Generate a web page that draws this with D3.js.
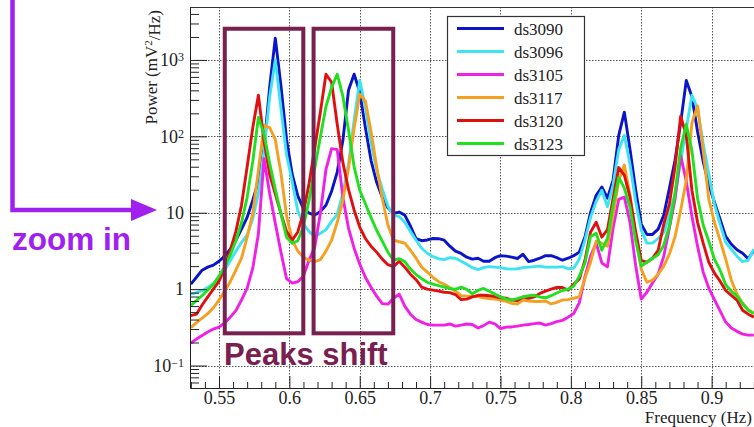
<!DOCTYPE html>
<html><head><meta charset="utf-8">
<script src="https://cdn.jsdelivr.net/npm/d3@7"></script>
<style>body{margin:0;background:#fff;} svg{display:block;}</style>
</head><body>
<svg id="c" width="754" height="427"></svg>
<script>
// ---------- DATA ----------
const freqs = [0.530,0.534,0.538,0.542,0.546,0.550,0.554,0.558,0.562,0.566,
0.570,0.574,0.578,0.582,0.586,0.590,0.594,0.598,0.602,0.606,
0.610,0.614,0.618,0.622,0.626,0.630,0.634,0.638,0.642,0.646,
0.650,0.654,0.658,0.662,0.666,0.670,0.674,0.678,0.682,0.686,
0.690,0.694,0.698,0.702,0.706,0.710,0.714,0.718,0.722,0.726,
0.730,0.734,0.738,0.742,0.746,0.750,0.754,0.758,0.762,0.766,
0.770,0.774,0.778,0.782,0.786,0.790,0.794,0.798,0.802,0.806,
0.810,0.814,0.818,0.822,0.826,0.830,0.834,0.838,0.842,0.846,
0.850,0.854,0.858,0.862,0.866,0.870,0.874,0.878,0.882,0.886,
0.890,0.894,0.898,0.902,0.906,0.910,0.914,0.918,0.922,0.926,0.930];

const seriesNames = ["ds3090","ds3096","ds3105","ds3117","ds3120","ds3123"];
const seriesColors = ["#0a14c8","#3ee4f0","#f020e6","#f5a020","#e01010","#20e020"];

const ds3090 = [1.16,1.43,1.77,1.94,2.06,2.32,2.70,3.33,4.37,6.1,
8.7,14.6,26,70,440,1930,460,91,32,16.6,
11.3,9.9,9.3,10.4,12.5,19.1,34,88,400,650,
380,130,48.6,25,16,11.6,9.8,10.2,9.3,6.7,
4.57,4.3,4.4,4.6,4.57,4.37,3.65,3.14,2.93,2.62,
2.47,2.54,2.32,2.32,2.58,2.74,2.70,2.62,2.52,2.86,
2.29,2.39,2.54,2.74,2.74,2.58,2.39,2.54,2.74,3.05,
4.8,10.1,16.9,21.7,15.5,26.6,103,207,68,20.2,
7.1,5.2,5.2,6.1,9.3,20.9,48.6,150,540,330,
116,47,23,13.7,8.2,4.9,3.87,3.28,2.95,2.5,3.2];

const ds3096 = [0.86,0.90,0.955,1.05,1.18,1.41,1.77,2.36,3.14,4.1,
5.07,8.4,17.9,65,326,1000,235,57,25.5,10.5,
7.1,5.7,4.85,5.4,6.0,7.7,9.5,17.9,43,162,
540,240,84,36,20.5,12.2,9.3,8.9,7.5,5.7,
4.37,3.43,2.95,2.66,2.5,2.43,2.58,2.54,2.32,2.12,
1.91,1.80,1.91,1.97,1.94,1.91,1.85,1.83,1.85,1.91,
1.94,1.97,2.0,1.94,1.94,1.94,1.97,1.85,1.88,2.47,
4.37,8.7,14.1,19.7,12,23,67,103,43,14.1,
5.9,4.0,4.0,4.6,5.5,9.3,17.9,47,127,345,
232,80,32,12.9,7.1,4.1,3.33,2.7,2.29,2.39,3.33];

const ds3105 = [0.197,0.222,0.247,0.274,0.30,0.318,0.36,0.43,0.524,0.72,
1.03,1.88,5.3,51,17.9,7.3,3.05,1.37,1.2,1.25,
1.48,2.4,3.54,9.8,37,69,67,16,6.3,3.43,
2.12,1.43,1.06,0.81,0.647,0.636,0.76,0.86,0.60,0.47,
0.40,0.37,0.344,0.338,0.338,0.338,0.35,0.328,0.338,0.35,
0.344,0.31,0.333,0.37,0.35,0.305,0.318,0.32,0.328,0.338,
0.344,0.354,0.36,0.338,0.354,0.376,0.39,0.43,0.48,0.66,
1.45,2.7,4.0,2.2,1.96,6.3,15,16,7.5,2.06,
0.74,0.91,1.2,1.57,2.7,6.3,15,56,25.8,9,
3.65,1.67,1.03,0.73,0.52,0.37,0.31,0.28,0.258,0.25,0.25];

const ds3117 = [0.314,0.365,0.417,0.478,0.57,0.72,0.94,1.25,1.77,2.54,
4.78,9.8,36,139,130,91,33,9.1,4.37,3.14,
2.62,2.39,2.29,2.43,3.14,4.37,7.5,14.6,38,127,
355,290,116,40,15.5,6.9,4.37,4.17,3.99,3.23,
2.54,1.94,1.67,1.43,1.25,1.16,1.05,0.94,0.82,0.81,
0.80,0.80,0.77,0.75,0.74,0.72,0.69,0.65,0.64,0.72,
0.70,0.69,0.69,0.70,0.64,0.67,0.72,0.73,0.76,0.79,
1.39,2.25,4.24,3.99,3.65,9.3,26.6,42,17,4.9,
1.83,1.23,1.31,1.57,2.0,2.87,4.85,10.8,26.6,150,
250,65,15,7.5,4.37,2.47,1.31,0.86,0.66,0.54,0.48];

const ds3120 = [0.45,0.47,0.62,0.79,1.0,1.27,1.88,3.23,5.7,12.5,
40,130,345,87,31.8,17.5,9.8,5.7,4.37,5.6,
10.1,24.2,70,207,650,510,144,45.6,20.2,10.8,
6.5,4.6,3.65,3.05,2.47,2.09,1.97,2.32,1.94,1.57,
1.33,1.06,1.0,0.97,0.94,0.91,0.9,0.85,0.73,0.74,
0.79,0.83,0.83,0.82,0.80,0.77,0.76,0.72,0.71,0.79,
0.76,0.79,0.88,0.94,1.0,1.05,1.05,0.97,1.16,1.35,
2.39,5.6,7.5,4.78,6.0,15.5,39,31,16,5.7,
2.36,2.25,2.54,3.23,7.1,13,40,183,103,19.7,
7.5,4.0,2.25,1.62,1.27,0.96,0.83,0.72,0.53,0.47,0.43];

const ds3123 = [0.61,0.71,0.82,0.97,1.16,1.48,1.97,2.78,4.3,7.4,
15.9,47,177,106,44.5,20.2,9.7,4.78,3.99,4.3,
6.6,14.6,38,98,246,437,650,335,121,40,
19.7,13.1,8.7,5.9,4.24,3.05,2.39,2.5,2.29,1.83,
1.55,1.37,1.23,1.16,1.11,1.06,1.02,0.99,1.06,0.99,
0.87,0.96,1.02,0.94,0.86,0.79,0.74,0.72,0.75,0.79,
0.82,0.83,0.79,0.77,0.82,0.89,0.96,1.0,1.09,1.48,
2.19,4.9,5.4,3.23,4.6,12.5,29,21,11.8,4.37,
2.0,2.25,2.54,2.82,3.76,6.7,17.9,70,144,65,
15.5,6.9,4.24,2.47,1.77,1.14,0.94,0.81,0.64,0.53,0.48];

const seriesValues = [ds3090, ds3096, ds3105, ds3117, ds3120, ds3123];

const xTickValues = [0.55,0.60,0.65,0.70,0.75,0.80,0.85,0.90];
const xTickLabels = ["0.55","0.6","0.65","0.7","0.75","0.8","0.85","0.9"];
const xMinorTicks = [0.53,0.54,0.56,0.57,0.58,0.59,0.61,0.62,0.63,0.64,0.66,0.67,0.68,0.69,
  0.71,0.72,0.73,0.74,0.76,0.77,0.78,0.79,0.81,0.82,0.83,0.84,0.86,0.87,0.88,0.89,0.91,0.92,0.93,0.94];
const yTickValues = [0.1,1,10,100,1000];
const yTickLabels = [["10","\u22121"],["1",""],["10",""],["10","2"],["10","3"]];
const yMinorTicks = [0.06,0.07,0.08,0.09,0.2,0.3,0.4,0.5,0.6,0.7,0.8,0.9,
  2,3,4,5,6,7,8,9,20,30,40,50,60,70,80,90,200,300,400,500,600,700,800,900,2000,3000,4000];

// annotation boxes in data units [f0, f1, vTop, vBottom]
const shiftBoxes = [[0.5541,0.6099,2560,0.264],[0.6172,0.6738,2560,0.264]];

// ---------- LAYOUT ----------
const svg = d3.select("#c");
const L = 190, T = 7, B = 388, R = 782;
const x = d3.scaleLinear().domain([0.5294, 0.95]).range([L, R]);
const y = d3.scaleLog().domain([0.0508, 4930]).range([B, T]);
const serif = "Liberation Serif, Times New Roman, serif";
const sans = "Liberation Sans, Arial, sans-serif";

// grid
const grid = svg.append("g").attr("stroke","#555").attr("stroke-width",1).attr("stroke-dasharray","1.5,1.5");
grid.selectAll("line.gx").data(xTickValues).join("line")
  .attr("x1",d=>Math.round(x(d))+0.5).attr("x2",d=>Math.round(x(d))+0.5).attr("y1",T).attr("y2",B);
grid.selectAll("line.gy").data(yTickValues).join("line")
  .attr("y1",d=>Math.round(y(d))+0.5).attr("y2",d=>Math.round(y(d))+0.5).attr("x1",L).attr("x2",R);

// frame top
svg.append("line").attr("x1",L).attr("x2",R).attr("y1",T+0.5).attr("y2",T+0.5).attr("stroke","#333").attr("stroke-width",1);

// data lines
svg.append("clipPath").attr("id","clip").append("rect").attr("x",L).attr("y",T).attr("width",R-L).attr("height",B-T);
const line = d3.line().x((d,i)=>x(freqs[i])).y(d=>y(d));
svg.append("g").attr("clip-path","url(#clip)")
  .selectAll("path").data(seriesValues).join("path")
  .attr("d",line).attr("fill","none")
  .attr("stroke",(d,i)=>seriesColors[i]).attr("stroke-width",2.9).attr("stroke-linejoin","round");

// x axis
const xg = svg.append("g").attr("transform",`translate(0,${B})`)
  .call(d3.axisBottom(x).tickValues(xTickValues).tickFormat((d,i)=>xTickLabels[i])
    .tickSizeInner(-12).tickSizeOuter(0).tickPadding(3));
xg.attr("font-family",serif).attr("font-size",18).attr("color","#222");
svg.append("g").attr("transform",`translate(0,${B})`)
  .call(d3.axisBottom(x).tickValues(xMinorTicks).tickFormat("").tickSizeInner(-6).tickSizeOuter(0))
  .attr("color","#222").select(".domain").remove();

// y axis
const yg = svg.append("g").attr("transform",`translate(${L},0)`)
  .call(d3.axisLeft(y).tickValues(yTickValues).tickFormat(()=>"")
    .tickSizeInner(-17).tickSizeOuter(0).tickPadding(6));
yg.attr("font-family",serif).attr("font-size",18).attr("color","#222");
yg.selectAll(".tick text").each(function(d,i){
  const t = d3.select(this);
  t.append("tspan").text(yTickLabels[i][0]);
  if (yTickLabels[i][1]) t.append("tspan").attr("dy","-0.42em").attr("font-size",12).text(yTickLabels[i][1]);
});
svg.append("g").attr("transform",`translate(${L},0)`)
  .call(d3.axisLeft(y).tickValues(yMinorTicks).tickFormat("").tickSizeInner(-9).tickSizeOuter(0))
  .attr("color","#222").select(".domain").remove();

// axis titles
const yt = svg.append("text").attr("transform","translate(157,10) rotate(-90)")
  .attr("text-anchor","end").attr("font-family",serif).attr("font-size",17).attr("fill","#222");
yt.append("tspan").text("Power (mV");
yt.append("tspan").attr("dy","-0.45em").attr("font-size",11).text("2");
yt.append("tspan").attr("dy","0.45em").text("/Hz)");
svg.append("text").attr("x",752).attr("y",423).attr("text-anchor","end")
  .attr("font-family",serif).attr("font-size",17)
  .attr("fill","#222").text("Frequency (Hz)");

// legend
const lg = svg.append("g");
lg.append("rect").attr("x",447.5).attr("y",16.5).attr("width",137).attr("height",139)
  .attr("fill","#fff").attr("stroke","#333").attr("stroke-width",1.2);
seriesNames.forEach((n,i)=>{
  const yy = 28.5 + i*23;
  lg.append("line").attr("x1",457).attr("x2",504).attr("y1",yy).attr("y2",yy)
    .attr("stroke",seriesColors[i]).attr("stroke-width",3);
  lg.append("text").attr("x",514).attr("y",yy).attr("dy","0.36em")
    .attr("font-family",serif).attr("font-size",17).attr("fill","#222").text(n);
});

// annotations
const maroon = "#782050", purple = "#a020f0";
svg.append("g").selectAll("rect").data(shiftBoxes).join("rect")
  .attr("x",d=>x(d[0])).attr("y",d=>y(d[2]))
  .attr("width",d=>x(d[1])-x(d[0])).attr("height",d=>y(d[3])-y(d[2]))
  .attr("fill","none").attr("stroke",maroon).attr("stroke-width",4);
svg.append("text").attr("x",224).attr("y",365).attr("font-family",sans).attr("font-weight","bold")
  .attr("font-size",31).attr("fill",maroon).text("Peaks shift");
svg.append("path").attr("d","M12.5,0V210H134").attr("fill","none").attr("stroke",purple).attr("stroke-width",4.5);
svg.append("path").attr("d","M131,199L157,210L131,221Z").attr("fill",purple);
svg.append("text").attr("x",12).attr("y",250).attr("font-family",sans).attr("font-weight","bold")
  .attr("font-size",31.5).attr("fill",purple).text("zoom in");
</script>
</body></html>
